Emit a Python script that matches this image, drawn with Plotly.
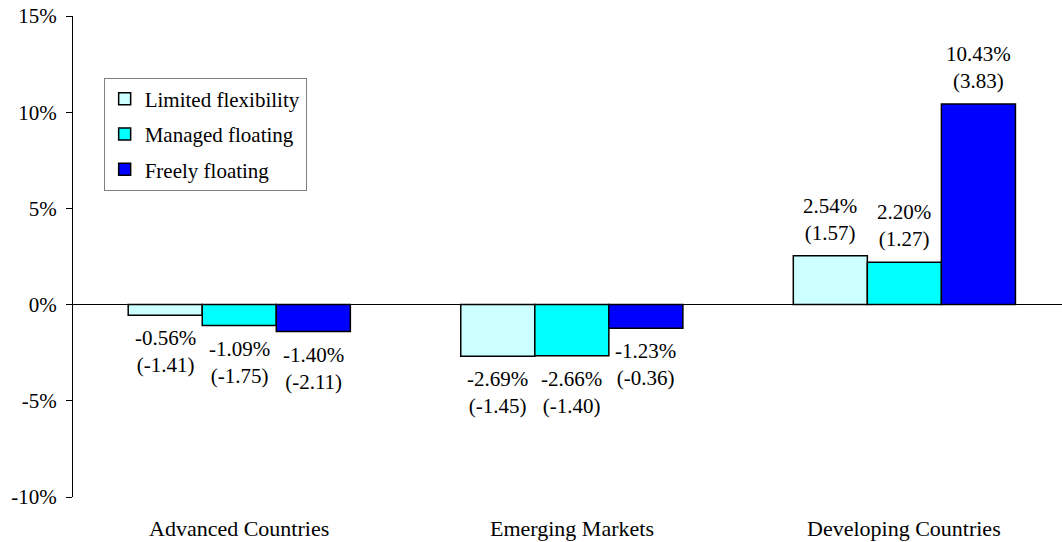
import plotly.graph_objects as go

# Regime categories and series values (% change, with t-statistics)
categories = ["Advanced Countries", "Emerging Markets", "Developing Countries"]
series_names = ["Limited flexibility", "Managed floating", "Freely floating"]
limited = [-0.56, -2.69, 2.54]
managed = [-1.09, -2.66, 2.20]
freely = [-1.40, -1.23, 10.43]
limited_t = [-1.41, -1.45, 1.57]
managed_t = [-1.75, -1.40, 1.27]
freely_t = [-2.11, -0.36, 3.83]
y_ticks = [15, 10, 5, 0, -5, -10]

values = [limited, managed, freely]
tstats = [limited_t, managed_t, freely_t]
colors = ["#CCFFFF", "#00FFFF", "#0000FF"]

FONT = "Liberation Serif"
BARGAP = 0.332
n_series = len(values)
bar_w = (1 - BARGAP) / n_series
xpos = list(range(len(categories)))

fig = go.Figure()
for i, (name, vals, col) in enumerate(zip(series_names, values, colors)):
    fig.add_trace(go.Bar(
        x=xpos, y=vals, name=name, legendgroup=name,
        marker=dict(color=col, line=dict(color="black", width=1.5)),
    ))

# Value labels with t-statistics in brackets, placed beyond each bar end
annotations = []
for i, (vals, ts) in enumerate(zip(values, tstats)):
    for c, (v, t) in enumerate(zip(vals, ts)):
        xc = c + (i - (n_series - 1) / 2) * bar_w
        annotations.append(dict(
            x=xc, y=v, xref="x", yref="y",
            text=f"{v:.2f}%<br>({t:.2f})",
            showarrow=False,
            yanchor="bottom" if v >= 0 else "top",
            yshift=9 if v >= 0 else -9,
            font=dict(family=FONT, size=21, color="black"),
        ))

# Category labels beneath the plot
for c, cat in enumerate(categories):
    annotations.append(dict(
        x=c, y=0, xref="x", yref="paper",
        text=cat, showarrow=False, yanchor="top", yshift=-17,
        font=dict(family=FONT, size=22, color="black"),
    ))

fig.update_layout(
    width=1062, height=542,
    margin=dict(l=73, r=0, t=16, b=45),
    paper_bgcolor="white", plot_bgcolor="white",
    barmode="group", bargap=BARGAP, bargroupgap=0,
    font=dict(family=FONT, size=21, color="black"),
    showlegend=True,
    legend=dict(
        x=0.031, y=0.872, xanchor="left", yanchor="top",
        bgcolor="white", bordercolor="#808080", borderwidth=1,
        traceorder="grouped", tracegroupgap=5,
        font=dict(family=FONT, size=21, color="black"),
        itemwidth=30,
    ),
    annotations=annotations,
)

fig.update_xaxes(
    range=[-0.5, 2.474], showticklabels=False, showgrid=False,
    zeroline=False, showline=False, ticks="",
)
fig.update_yaxes(
    range=[-10, 15], tickvals=y_ticks,
    ticktext=[f"{v}%" for v in y_ticks],
    showgrid=False, showline=True, linecolor="black", linewidth=1,
    ticks="outside", ticklen=6, tickcolor="black",
    ticklabelstandoff=5,
    zeroline=True, zerolinecolor="black", zerolinewidth=1,
    tickfont=dict(family=FONT, size=21, color="black"),
)

fig.write_html("out.html")
